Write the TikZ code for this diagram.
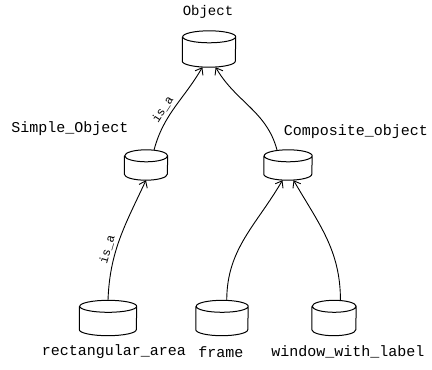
\documentclass[tikz,border=0pt]{standalone}
\usepackage{fontspec}
\setmonofont{Liberation Mono}
\usepackage{tikz}
\usetikzlibrary{calc}
\usetikzlibrary{arrows.meta}
\usetikzlibrary{positioning}
\tikzset{tubbox/.style={inner sep=0pt, draw=none}}
\tikzset{tubline/.style={line width=1pt, line join=round}}
\tikzset{classname/.style={font=\ttfamily\fontsize{15}{17}\selectfont, inner sep=0pt}}
% a named drum: name, position, width, height
\newcommand{\tub}[4]{%
\node[tubbox, minimum width=#3, minimum height=#4](#1) at #2{};
\draw[tubline] ($(#1.north west)+(0,-6pt)$) -- ($(#1.south west)+(0,6pt)$)
  arc[start angle=180, end angle=360, x radius=#3/2, y radius=6pt]
  -- ($(#1.north east)+(0,-6pt)$)
  arc[start angle=0, end angle=180, x radius=#3/2, y radius=6pt]
  arc[start angle=180, end angle=360, x radius=#3/2, y radius=6pt];
}
\begin{document}
\begin{tikzpicture}[x=1pt, y=1pt]
\useasboundingbox (0,0) rectangle (432,-370);
\tikzstyle{isa} = [-{Straight Barb[length=6pt, width=9pt]}, line width=0.9pt]
\tikzstyle{lbl} = [font=\ttfamily\fontsize{12}{14}\selectfont, sloped, above, inner sep=3pt]

% classes
\tub{object}{(209, -49)}{53pt}{36pt}
\node[classname, font=\ttfamily\fontsize{14}{16}\selectfont](objectname) at (208, -12){Object};

\tub{simple}{(146, -165)}{43pt}{30pt}
\node[classname](simplename) at (70, -129){Simple\_Object};

\tub{composite}{(288, -165)}{48pt}{30pt}
\node[classname](compositename) at (356, -132){Composite\_object};

\tub{rect}{(108, -318)}{57pt}{35pt}
\node[classname](rectname) at (114, -352){rectangular\_area};

\tub{frame}{(222, -318)}{52pt}{35pt}
\node[classname](framename) at (221, -352){frame};

\tub{window}{(334, -318)}{44pt}{35pt}
\node[classname](windowname) at (348, -352){window\_with\_label};

% is_a links
\draw[isa] (simple.62) to[out=75, in=240] node[lbl, pos=0.4]{is\_a} (object.250);
\draw[isa] (composite.126) to[out=105, in=-60] (object.290);
\draw[isa] (rect.90) to[out=88, in=245] node[lbl, pos=0.38]{is\_a} (simple.270);
\draw[isa] (frame.75) to[out=90, in=240] (composite.250);
\draw[isa] (window.70) to[out=90, in=-60] (composite.290);
\end{tikzpicture}
\end{document}
